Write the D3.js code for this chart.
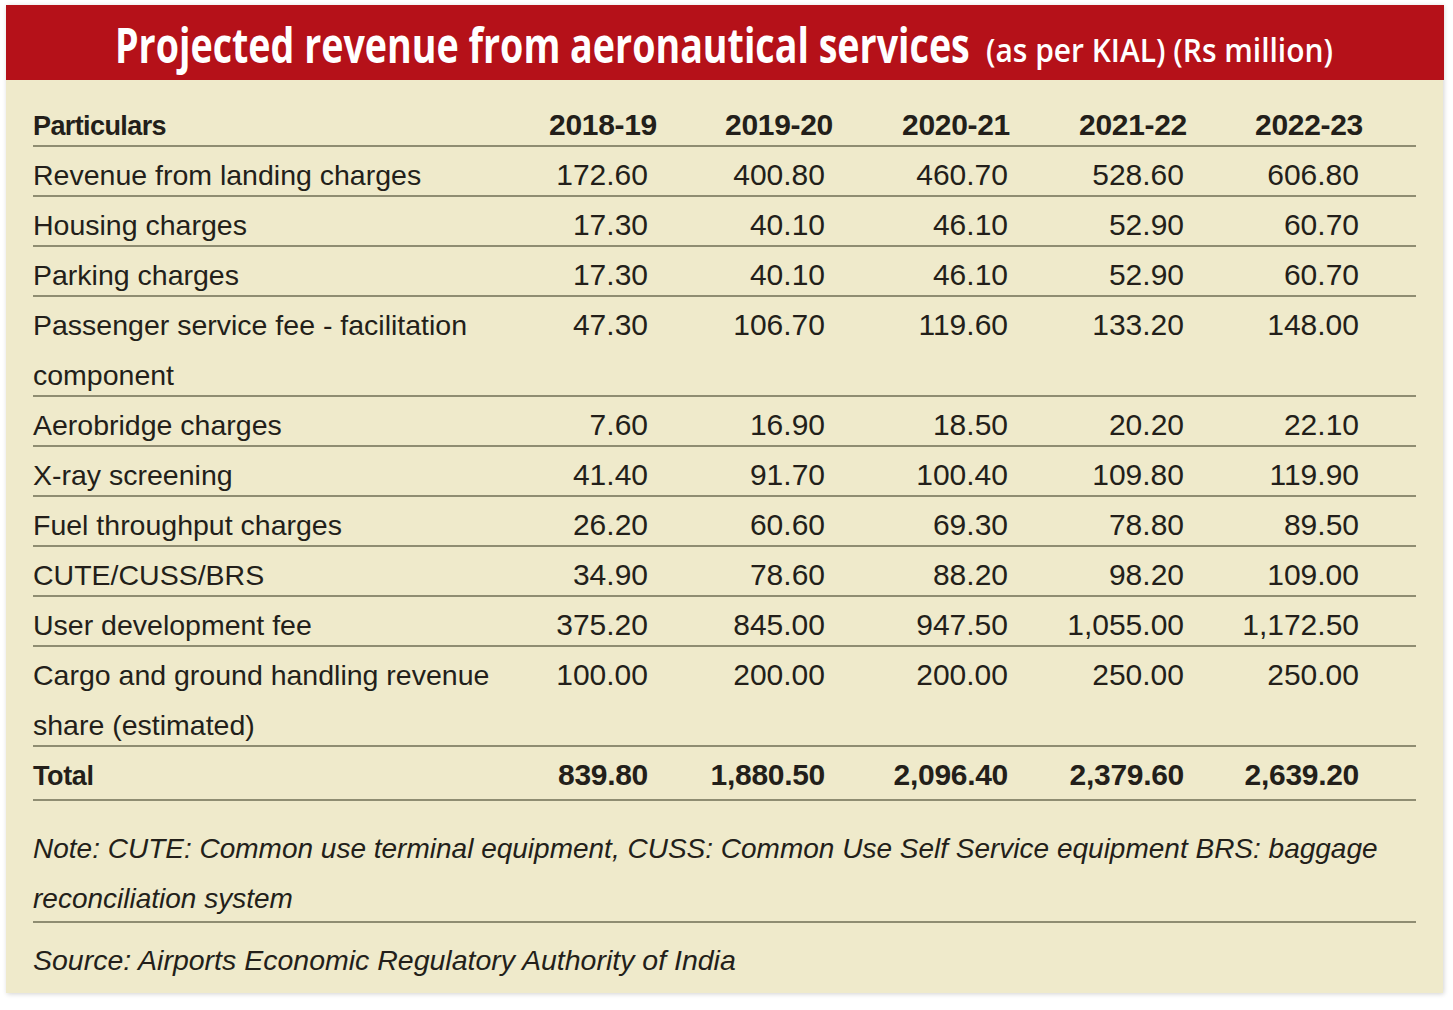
<!DOCTYPE html>
<html>
<head>
<meta charset="utf-8">
<script src="https://cdn.jsdelivr.net/npm/d3@7/dist/d3.min.js"></script>
<style>
  html, body { margin: 0; padding: 0; background: #ffffff; }
  svg { display: block; }
</style>
</head>
<body>
<svg id="chart" width="1453" height="1010"></svg>
<script>
// ---------- DATA ----------
const titleMain = "Projected revenue from aeronautical services";
const titleSub = "(as per KIAL) (Rs million)";
const headerLabel = "Particulars";
const years = ["2018-19", "2019-20", "2020-21", "2021-22", "2022-23"];

const rowLabels = [
  ["Revenue from landing charges"],
  ["Housing charges"],
  ["Parking charges"],
  ["Passenger service fee - facilitation", "component"],
  ["Aerobridge charges"],
  ["X-ray screening"],
  ["Fuel throughput charges"],
  ["CUTE/CUSS/BRS"],
  ["User development fee"],
  ["Cargo and ground handling revenue", "share (estimated)"]
];

const landingCharges   = [172.60, 400.80, 460.70, 528.60, 606.80];
const housingCharges   = [17.30, 40.10, 46.10, 52.90, 60.70];
const parkingCharges   = [17.30, 40.10, 46.10, 52.90, 60.70];
const passengerFee     = [47.30, 106.70, 119.60, 133.20, 148.00];
const aerobridge       = [7.60, 16.90, 18.50, 20.20, 22.10];
const xray             = [41.40, 91.70, 100.40, 109.80, 119.90];
const fuelThroughput   = [26.20, 60.60, 69.30, 78.80, 89.50];
const cuteCussBrs      = [34.90, 78.60, 88.20, 98.20, 109.00];
const userDevFee       = [375.20, 845.00, 947.50, 1055.00, 1172.50];
const cargoGround      = [100.00, 200.00, 200.00, 250.00, 250.00];

const totalLabel = "Total";
const totals = [839.80, 1880.50, 2096.40, 2379.60, 2639.20];

const noteLines = [
  "Note: CUTE: Common use terminal equipment, CUSS: Common Use Self Service equipment BRS: baggage",
  "reconciliation system"
];
const sourceText = "Source: Airports Economic Regulatory Authority of India";

// ---------- BUILD ----------
const seriesRows = [landingCharges, housingCharges, parkingCharges, passengerFee, aerobridge,
                    xray, fuelThroughput, cuteCussBrs, userDevFee, cargoGround];
const rows = rowLabels.map((lab, i) => ({ label: lab, values: seriesRows[i] }));

const fmt = d3.format(",.2f");
const RED = "#b51119", BG = "#efeacb", INK = "#231f1a", RULE = "#8f8d72";
const BODY = "'Liberation Sans', Arial, sans-serif";
const TITLE = "'Open Sans', 'Liberation Sans', sans-serif";

const svg = d3.select("#chart");

// shadow
const defs = svg.append("defs");
const f = defs.append("filter").attr("id", "sh").attr("x", "-5%").attr("y", "-5%").attr("width", "110%").attr("height", "110%");
f.append("feGaussianBlur").attr("in", "SourceAlpha").attr("stdDeviation", 2.5);
f.append("feOffset").attr("dx", 1).attr("dy", 1).attr("result", "b");
f.append("feComponentTransfer").append("feFuncA").attr("type", "linear").attr("slope", 0.18);
const m = f.append("feMerge"); m.append("feMergeNode"); m.append("feMergeNode").attr("in", "SourceGraphic");

const panel = { x0: 6, x1: 1443, yTop: 5, yHead: 80, yBot: 993 };
svg.append("rect").attr("x", panel.x0).attr("y", panel.yTop)
  .attr("width", panel.x1 - panel.x0).attr("height", panel.yBot - panel.yTop)
  .attr("fill", BG).attr("filter", "url(#sh)");
svg.append("rect").attr("x", panel.x0).attr("y", panel.yTop)
  .attr("width", panel.x1 - panel.x0 + 1).attr("height", panel.yHead - panel.yTop)
  .attr("fill", RED);

// title: condensed by horizontal scaling to fit its span
function fitText(x, y, width, size, weight, str) {
  const gT = svg.append("g");
  const t = gT.append("text").attr("x", 0).attr("y", 0)
    .attr("font-family", TITLE).attr("font-weight", weight).attr("font-size", size)
    .attr("fill", "#ffffff").text(str);
  const w = t.node().getComputedTextLength();
  gT.attr("transform", `translate(${x},${y}) scale(${width / w},1)`);
}
fitText(115, 63, 855, 49, 700, titleMain);
fitText(986, 62, 347, 33, 600, titleSub);

// scales
const xCol = d3.scaleOrdinal().domain(years).range([648, 825, 1008, 1184, 1359]);
const xHead = d3.scaleOrdinal().domain(years).range([657, 833, 1010, 1187, 1363]);
const lineX0 = 33, lineX1 = 1416;
let unit = 0;
const layout = rows.map(r => { const s = unit; unit += r.label.length; return { ...r, start: s }; });
const yUnit = d3.scaleLinear().domain([0, 1]).range([146, 196]);

// header row
svg.append("text").attr("x", lineX0).attr("y", 135)
  .attr("font-family", BODY).attr("font-weight", 700).attr("font-size", 27)
  .attr("letter-spacing", -0.6).attr("fill", INK).text(headerLabel);
svg.selectAll("text.yr").data(years).join("text").attr("class", "yr")
  .attr("x", d => xHead(d)).attr("y", 135).attr("text-anchor", "end")
  .attr("font-family", BODY).attr("font-weight", 700).attr("font-size", 30)
  .attr("letter-spacing", -0.3).attr("fill", INK).text(d => d);

// rules
const ruleYs = [yUnit(0)].concat(layout.map(r => yUnit(r.start + r.label.length)));
const totalTop = yUnit(unit);
const totalBottom = totalTop + 54;
ruleYs.push(totalBottom, 922);
svg.selectAll("line.rule").data(ruleYs).join("line").attr("class", "rule")
  .attr("x1", lineX0).attr("x2", lineX1).attr("y1", d => d).attr("y2", d => d)
  .attr("stroke", RULE).attr("stroke-width", 2.2);

// body rows
const g = svg.selectAll("g.row").data(layout).join("g").attr("class", "row");
g.each(function (r) {
  const sel = d3.select(this);
  r.label.forEach((ln, k) => {
    sel.append("text").attr("x", lineX0).attr("y", yUnit(r.start + k) + 39)
      .attr("font-family", BODY).attr("font-size", 28.5).attr("fill", INK).text(ln);
  });
  sel.selectAll("text.v").data(r.values).join("text").attr("class", "v")
    .attr("x", (d, i) => xCol(years[i])).attr("y", yUnit(r.start) + 39)
    .attr("text-anchor", "end").attr("font-family", BODY).attr("font-size", 30)
    .attr("fill", INK).text(d => fmt(d));
});

// total row
svg.append("text").attr("x", lineX0).attr("y", totalTop + 39)
  .attr("font-family", BODY).attr("font-weight", 700).attr("font-size", 27)
  .attr("letter-spacing", -0.4).attr("fill", INK).text(totalLabel);
svg.selectAll("text.tot").data(totals).join("text").attr("class", "tot")
  .attr("x", (d, i) => xCol(years[i])).attr("y", totalTop + 39)
  .attr("text-anchor", "end").attr("font-family", BODY).attr("font-weight", 700)
  .attr("font-size", 30).attr("letter-spacing", -0.3).attr("fill", INK).text(d => fmt(d));

// notes
svg.selectAll("text.note").data(noteLines).join("text").attr("class", "note")
  .attr("x", lineX0).attr("y", (d, i) => 858 + i * 50)
  .attr("font-family", BODY).attr("font-style", "italic").attr("font-size", 28)
  .attr("fill", INK).text(d => d);
svg.append("text").attr("x", lineX0).attr("y", 970)
  .attr("font-family", BODY).attr("font-style", "italic").attr("font-size", 28.5)
  .attr("fill", INK).text(sourceText);
</script>
</body>
</html>
